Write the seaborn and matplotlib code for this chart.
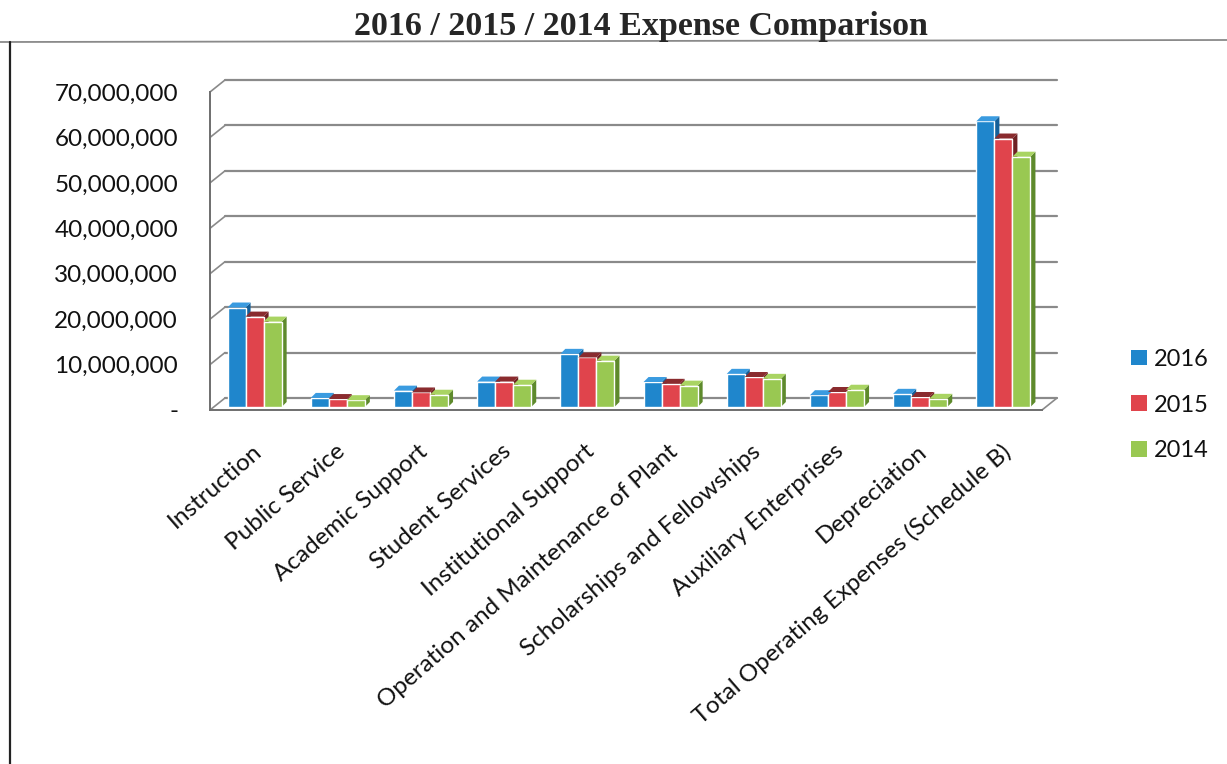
import matplotlib
matplotlib.use("Agg")
import matplotlib.pyplot as plt
from matplotlib.lines import Line2D
from matplotlib.patches import Polygon, Patch
import pandas as pd
import seaborn as sns

# values (dollars)
categories = ["Instruction", "Public Service", "Academic Support", "Student Services",
              "Institutional Support", "Operation and Maintenance of Plant",
              "Scholarships and Fellowships", "Auxiliary Enterprises", "Depreciation",
              "Total Operating Expenses (Schedule B)"]
years = ["2016", "2015", "2014"]
exp_2016 = [21.9e6, 2.0e6, 3.6e6, 5.6e6, 11.7e6, 5.5e6, 7.3e6, 2.6e6, 2.9e6, 62.9e6]
exp_2015 = [19.9e6, 1.75e6, 3.2e6, 5.6e6, 10.9e6, 5.1e6, 6.6e6, 3.3e6, 2.2e6, 59.1e6]
exp_2014 = [18.8e6, 1.5e6, 2.7e6, 4.9e6, 10.2e6, 4.7e6, 6.2e6, 3.8e6, 1.8e6, 55.1e6]
y_ticks = [0, 10e6, 20e6, 30e6, 40e6, 50e6, 60e6, 70e6]

front_colors = ["#1f86cc", "#e0444c", "#99c852"]
top_colors = ["#3a9be0", "#8a2b2e", "#a9d462"]
side_colors = ["#14609a", "#6e2124", "#5e8a2c"]

df = pd.DataFrame({
    "Category": categories * 3,
    "Year": [y for y in years for _ in categories],
    "Expense": exp_2016 + exp_2015 + exp_2014,
})

sns.set_style("white")
plt.rcParams["font.family"] = ["Lato", "DejaVu Sans"]

W, H = 1227, 764
fig = plt.figure(figsize=(W / 100, H / 100), dpi=100)
ax = fig.add_axes([210 / W, 1 - 410 / H, 832 / W, 318 / H])

sns.barplot(data=df, x="Category", y="Expense", hue="Year", hue_order=years,
            palette=front_colors, width=0.65, saturation=1, legend=False, ax=ax, zorder=3)

ax.set_xlim(-0.5, len(categories) - 0.5)
ax.set_ylim(0, 70e6)

# fake depth, in data units (about 5 px for bars, 15x12 px for the back wall)
px_x = 1 / 83.2
px_y = 70e6 / 318
bdx, bdy = 5 * px_x, 5 * px_y
wdx, wdy = 15 * px_x, 12 * px_y
floor_y = 3 * px_y   # bars stand a little behind the front edge
shift_x = 3 * px_x

for i, cont in enumerate(ax.containers):
    for bar in cont:
        bar.set_x(bar.get_x() + shift_x)
        bar.set_y(floor_y)
        x0, w, h = bar.get_x(), bar.get_width(), bar.get_height()
        x1 = x0 + w
        yb, yt = floor_y, floor_y + h
        top = Polygon([(x0, yt), (x0 + bdx, yt + bdy), (x1 + bdx, yt + bdy), (x1, yt)],
                      closed=True, fc=top_colors[i], ec="none", zorder=3, clip_on=False)
        side = Polygon([(x1, yb), (x1 + bdx, yb + bdy), (x1 + bdx, yt + bdy), (x1, yt)],
                       closed=True, fc=side_colors[i], ec="none", zorder=2.9, clip_on=False)
        ax.add_patch(side)
        ax.add_patch(top)

# back wall gridlines with diagonal connectors
xl, xr = ax.get_xlim()
grid_c = "#8a8a8a"
for v in y_ticks:
    ax.plot([xl + wdx, xr + wdx], [v + wdy, v + wdy], color=grid_c, lw=1.6,
            zorder=1, clip_on=False)
    ax.plot([xl, xl + wdx], [v, v + wdy], color=grid_c, lw=1.2, zorder=1, clip_on=False)
# floor right edge
ax.plot([xr, xr + wdx], [0, wdy], color=grid_c, lw=1.2, zorder=1, clip_on=False)

for s in ["top", "right"]:
    ax.spines[s].set_visible(False)
for s in ["left", "bottom"]:
    ax.spines[s].set_color("#6e6e6e")
    ax.spines[s].set_linewidth(1.4)

ax.set_yticks(y_ticks)
ax.set_yticklabels(["-" if v == 0 else f"{v:,.0f}" for v in y_ticks], fontsize=17.5)
ax.tick_params(axis="y", length=5, width=1.2, color="#6e6e6e", pad=18, labelcolor="#111111")

ax.set_xticks(range(len(categories)))
ax.set_xticks([k - 0.5 for k in range(len(categories) + 1)], minor=True)
ax.set_xticklabels(categories, rotation=41, ha="right", rotation_mode="anchor", fontsize=17.5)
ax.tick_params(axis="x", which="major", length=0, pad=22, labelcolor="#111111")
ax.tick_params(axis="x", which="minor", length=8, width=1.6, color="#555555")
ax.set_xlabel("")
ax.set_ylabel("")
ax.patch.set_alpha(0)

# legend
handles = [Patch(fc=c, ec="none") for c in front_colors]
fig.legend(handles, years, loc="center left", bbox_to_anchor=(1110 / W, 1 - 405 / H),
           frameon=False, fontsize=17, handlelength=0.65, handleheight=0.65,
           handletextpad=0.3, labelspacing=1.05, labelcolor="#111111")

fig.text(641 / W, 1 - 26 / H, "2016 / 2015 / 2014 Expense Comparison",
         family="Liberation Serif", fontweight="bold", fontsize=24.5, ha="center", va="center")

# outer frame (left and top edges only)
fig.add_artist(Line2D([0, 1], [1 - 42 / H, 1 - 40 / H], color="#8a8a8a", lw=1.3))
fig.add_artist(Line2D([10 / W, 10 / W], [0, 1 - 42 / H], color="#222222", lw=1.6))

fig.savefig("out.png", dpi=100)
